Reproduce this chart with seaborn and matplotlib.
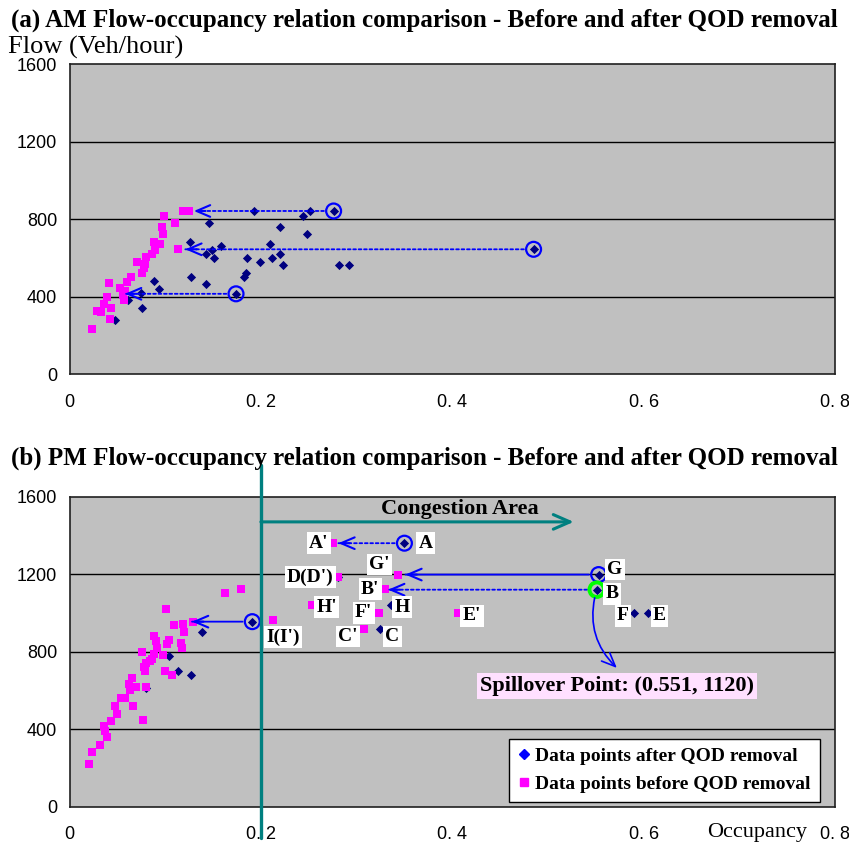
import matplotlib
matplotlib.use("Agg")
import matplotlib.pyplot as plt
import seaborn as sns
import pandas as pd
from matplotlib.lines import Line2D

# ---------------- data ----------------
X_TICKS = [0, 0.2, 0.4, 0.6, 0.8]
X_TICK_LABELS = ["0", "0. 2", "0. 4", "0. 6", "0. 8"]
Y_TICKS = [0, 400, 800, 1200, 1600]
Y_TICK_LABELS = ["0", "400", "800", "1200", "1600"]

# AM, before QOD removal (magenta squares)
AM_before_occ = [0.119, 0.125, 0.099, 0.110, 0.097, 0.098, 0.088, 0.095, 0.089, 0.113,
                 0.086, 0.080, 0.070, 0.079, 0.078, 0.076, 0.064, 0.060, 0.041, 0.053,
                 0.058, 0.056, 0.039, 0.057, 0.036, 0.043, 0.029, 0.033, 0.042, 0.023]
AM_before_flow = [845, 845, 815, 781, 762, 722, 683, 671, 641, 645,
                  621, 604, 579, 567, 548, 522, 500, 478, 469, 443,
                  431, 409, 397, 383, 361, 343, 328, 321, 285, 231]

# AM, after QOD removal (navy diamonds)
AM_after_occ = [0.193, 0.251, 0.276, 0.244, 0.146, 0.220, 0.248, 0.126, 0.158, 0.210,
                0.149, 0.143, 0.220, 0.151, 0.185, 0.212, 0.199, 0.223, 0.282, 0.292,
                0.184, 0.182, 0.127, 0.143, 0.174, 0.485, 0.088, 0.0935, 0.075, 0.076,
                0.047, 0.061]
AM_after_flow = [843, 843, 843, 815, 782, 760, 722, 683, 662, 672,
                 641, 621, 622, 600, 602, 602, 579, 562, 562, 562,
                 524, 502, 502, 464, 415, 645, 480, 441, 419, 342,
                 280, 383]

# AM points moved by QOD removal (circled) and where they moved to
AM_moved_from_occ = [0.276, 0.485, 0.174]
AM_moved_to_occ = [0.130, 0.121, 0.058]
AM_moved_flow = [843, 645, 415]

# PM, before QOD removal (magenta squares)
PM_before_occ = [0.101, 0.109, 0.119, 0.129, 0.120, 0.0886, 0.090, 0.104, 0.102, 0.117,
                 0.118, 0.091, 0.0758, 0.098, 0.088, 0.086, 0.084, 0.080, 0.078, 0.079,
                 0.0998, 0.107, 0.080, 0.0657, 0.0625, 0.069, 0.063, 0.0535, 0.058, 0.0667,
                 0.0475, 0.050, 0.043, 0.077, 0.0357, 0.037, 0.039, 0.032, 0.024, 0.0207,
                 0.163, 0.179, 0.213]
PM_before_flow = [1022, 940, 942, 953, 902, 881, 857, 859, 842, 845,
                  818, 819, 799, 782, 787, 762, 750, 743, 721, 699,
                  699, 681, 620, 663, 632, 620, 603, 563, 563, 521,
                  518, 477, 441, 446, 418, 392, 361, 319, 281, 220,
                  1102, 1122, 962]

# PM, after QOD removal (navy diamonds)
PM_after_occ = [0.138, 0.104, 0.113, 0.127, 0.080, 0.191]
PM_after_flow = [902, 780, 699, 681, 613, 955]

# Labelled PM points
PM_lab_before_names = ["A'", "G'", "D(D')", "B'", "H'", "F'", "E'", "C'", "I(I')"]
PM_lab_before_occ = [0.275, 0.343, 0.281, 0.330, 0.253, 0.323, 0.406, 0.308, 0.213]
PM_lab_before_flow = [1360, 1198, 1183, 1122, 1040, 1000, 1000, 919, 962]

PM_lab_after_names = ["A", "G", "B", "H", "F", "E", "C", ""]
PM_lab_after_occ = [0.350, 0.553, 0.551, 0.336, 0.590, 0.605, 0.324, 0.281]
PM_lab_after_flow = [1360, 1198, 1120, 1040, 1000, 1000, 919, 1183]

# PM moved points (circled) and arrow targets
PM_moved_from_occ = [0.350, 0.553, 0.551, 0.191]
PM_moved_to_occ = [0.281, 0.351, 0.333, 0.128]
PM_moved_flow = [1360, 1198, 1120, 955]
PM_moved_dotted = [True, False, True, False]

SPILL_OCC, SPILL_FLOW = 0.551, 1120
CONGESTION_OCC = 0.2

# ---------------- style ----------------
NAVY = "#000080"
MAG = "#FF00FF"
BLUE = "#0000FF"
TEAL = "#008080"
GRAY = "#C0C0C0"
SERIF = ["Liberation Serif", "DejaVu Serif"]
SANS = ["Liberation Sans", "DejaVu Sans"]

sns.set_theme(style="white")
plt.rcParams["font.family"] = SERIF
plt.rcParams.update({"text.color": "black", "xtick.color": "black",
                     "ytick.color": "black", "axes.labelcolor": "black"})

fig = plt.figure(figsize=(8.49, 8.43), dpi=100)
ax1 = fig.add_axes([0.0819, 0.5562, 0.9016, 0.3673])
ax2 = fig.add_axes([0.0819, 0.0431, 0.9016, 0.3677])


def style_axes(ax):
    ax.set_facecolor(GRAY)
    ax.set_xlim(0, 0.8)
    ax.set_ylim(0, 1600)
    ax.set_xticks(X_TICKS)
    ax.set_xticklabels(X_TICK_LABELS, fontfamily=SANS, fontsize=13)
    ax.set_yticks(Y_TICKS)
    ax.set_yticklabels(Y_TICK_LABELS, fontfamily=SANS, fontsize=13)
    ax.grid(False)
    for y in Y_TICKS[1:-1]:
        ax.axhline(y, color="black", lw=1.0, zorder=0.5)
    ax.tick_params(axis="x", direction="in", length=5, pad=14, color="black", width=1)
    ax.tick_params(axis="y", length=0, pad=9)
    for s in ax.spines.values():
        s.set_color("#202020")
        s.set_linewidth(1.2)
    ax.set_xlabel("")
    ax.set_ylabel("")


def moved_arrow(ax, x0, x1, y, dotted=True):
    ls = (0, (1.5, 1.5)) if dotted else "-"
    ax.annotate("", xy=(x1, y), xytext=(x0, y),
                arrowprops=dict(arrowstyle="-", color=BLUE, lw=1.3, ls=ls,
                                shrinkA=7, shrinkB=0), zorder=5)
    ax.annotate("", xy=(x1, y), xytext=(x1 + 0.012, y),
                arrowprops=dict(arrowstyle="->,head_length=0.7,head_width=0.3",
                                color=BLUE, lw=1.5, shrinkA=0, shrinkB=0,
                                mutation_scale=14), zorder=5)


# ---------------- (a) AM ----------------
style_axes(ax1)
sns.scatterplot(x=AM_after_occ, y=AM_after_flow, marker="D", color=NAVY, s=22,
                linewidth=0, ax=ax1, zorder=3)
sns.scatterplot(x=AM_before_occ, y=AM_before_flow, marker="s", color=MAG, s=34,
                linewidth=0, ax=ax1, zorder=4)
ax1.scatter(AM_moved_from_occ, AM_moved_flow, s=115, facecolors="none",
            edgecolors=BLUE, linewidths=1.6, zorder=6)
for x0, x1, y in zip(AM_moved_from_occ, AM_moved_to_occ, AM_moved_flow):
    moved_arrow(ax1, x0, x1, y, dotted=True)

# ---------------- (b) PM ----------------
style_axes(ax2)
sns.scatterplot(x=PM_after_occ + PM_lab_after_occ, y=PM_after_flow + PM_lab_after_flow,
                marker="D", color=NAVY, s=22, linewidth=0, ax=ax2, zorder=3)
sns.scatterplot(x=PM_before_occ + PM_lab_before_occ, y=PM_before_flow + PM_lab_before_flow,
                marker="s", color=MAG, s=34, linewidth=0, ax=ax2, zorder=4)

circ_blue = [(o, f) for o, f in zip(PM_moved_from_occ, PM_moved_flow)
             if not (o == SPILL_OCC and f == SPILL_FLOW)]
ax2.scatter([c[0] for c in circ_blue], [c[1] for c in circ_blue], s=115,
            facecolors="none", edgecolors=BLUE, linewidths=1.6, zorder=6)
ax2.scatter([SPILL_OCC], [SPILL_FLOW], s=110, facecolors="none",
            edgecolors="#00FF00", linewidths=2.8, zorder=6)
for x0, x1, y, d in zip(PM_moved_from_occ, PM_moved_to_occ, PM_moved_flow, PM_moved_dotted):
    moved_arrow(ax2, x0, x1, y, dotted=d)

# point labels (offsets in pixels)
before_offsets = {"A'": (-14, 0), "G'": (-18, 10), "D(D')": (-28, 0), "B'": (-15, 0),
                  "H'": (15, -2), "F'": (-15, 0), "E'": (14, -3), "C'": (-16, -8),
                  "I(I')": (10, -17)}
after_offsets = {"A": (21, 0), "G": (16, 5), "B": (15, -4), "H": (11, -2),
                 "F": (-11, -3), "E": (11, -3), "C": (13, -8)}
lab_box = dict(boxstyle="square,pad=0.12", fc="white", ec="none")
for n, o, f in zip(PM_lab_before_names, PM_lab_before_occ, PM_lab_before_flow):
    ax2.annotate(n, (o, f), xytext=before_offsets[n], textcoords="offset pixels",
                 ha="center", va="center", fontsize=14, fontweight="bold",
                 bbox=lab_box, zorder=7)
for n, o, f in zip(PM_lab_after_names, PM_lab_after_occ, PM_lab_after_flow):
    if n:
        ax2.annotate(n, (o, f), xytext=after_offsets[n], textcoords="offset pixels",
                     ha="center", va="center", fontsize=14, fontweight="bold",
                     bbox=lab_box, zorder=7)

# congestion area
ax2.plot([CONGESTION_OCC, CONGESTION_OCC], [1764, -161], color=TEAL, lw=2.4,
         clip_on=False, zorder=8)
ax2.annotate("", xy=(0.527, 1470), xytext=(CONGESTION_OCC, 1470),
             arrowprops=dict(arrowstyle="->,head_length=0.8,head_width=0.35",
                             color=TEAL, lw=2.2, shrinkA=0, shrinkB=0,
                             mutation_scale=15), zorder=8)
ax2.text(0.408, 1535, "Congestion Area", ha="center", va="center", fontsize=16,
         fontweight="bold", zorder=8)

# spillover annotation
ax2.annotate("", xy=(0.572, 716), xytext=(SPILL_OCC, SPILL_FLOW),
             arrowprops=dict(arrowstyle="->,head_length=0.7,head_width=0.3",
                             color=BLUE, lw=1.2, shrinkA=6, shrinkB=0,
                             connectionstyle="arc3,rad=0.3", mutation_scale=14),
             zorder=6)
ax2.text(0.572, 623, f"Spillover Point: ({SPILL_OCC}, {SPILL_FLOW})", ha="center",
         va="center", fontsize=16, fontweight="bold",
         bbox=dict(boxstyle="square,pad=0.12", fc="#FFE0FF", ec="none"), zorder=7)

# legend
handles = [Line2D([], [], marker="D", color=BLUE, ls="none", markersize=5),
           Line2D([], [], marker="s", color=MAG, ls="none", markersize=6)]
leg = ax2.legend(handles, ["Data points after QOD removal", "Data points before QOD removal"],
                 loc="lower right", bbox_to_anchor=(0.980, 0.015), borderaxespad=0,
                 prop=dict(family=SERIF, weight="bold", size=14), frameon=True,
                 fancybox=False, edgecolor="black", framealpha=1, handlelength=0.6,
                 handletextpad=0.3, borderpad=0.45, labelspacing=0.55)
leg.get_frame().set_linewidth(1.0)
leg.set_zorder(9)

# titles and axis captions
fig.text(0.5, 1 - 20 / 843, "(a) AM Flow-occupancy relation comparison - Before and after QOD removal",
         ha="center", va="center", fontsize=18, fontweight="bold")
fig.text(0.5, 1 - 458 / 843, "(b) PM Flow-occupancy relation comparison - Before and after QOD removal",
         ha="center", va="center", fontsize=18, fontweight="bold")
fig.text(8 / 849, 1 - 47 / 843, "Flow (Veh/hour)", ha="left", va="center", fontsize=19)
fig.text(757 / 849, 1 - 832 / 843, "Occupancy", ha="center", va="center", fontsize=16)

fig.savefig("out.png", dpi=100, facecolor="white")
